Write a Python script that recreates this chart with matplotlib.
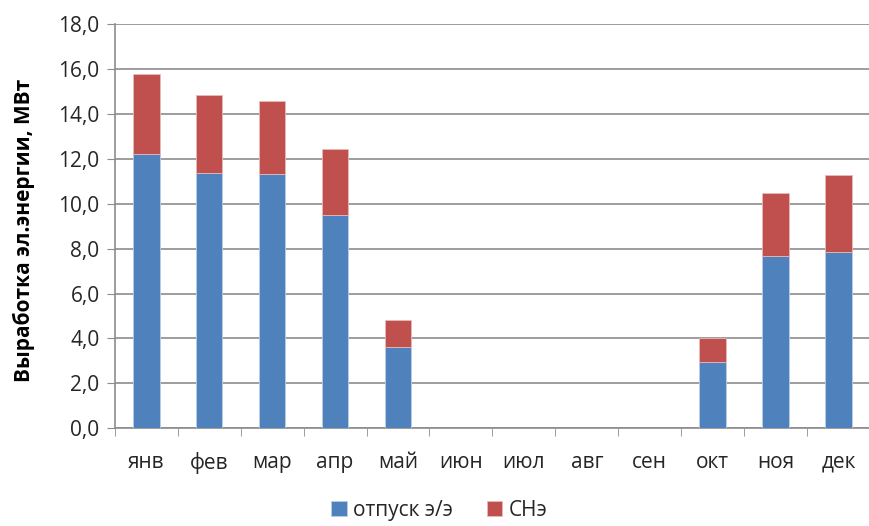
import numpy as np
import matplotlib.pyplot as plt

plt.rcParams['font.family'] = ['Open Sans', 'DejaVu Sans']

months = ['янв', 'фев', 'мар', 'апр', 'май', 'июн', 'июл', 'авг', 'сен', 'окт', 'ноя', 'дек']
supply = [12.22, 11.39, 11.33, 9.51, 3.61, 0, 0, 0, 0, 2.97, 7.68, 7.86]
own_needs = [3.56, 3.44, 3.27, 2.94, 1.20, 0, 0, 0, 0, 1.05, 2.78, 3.43]

blue = '#4F81BD'
red = '#C0504D'
grid_c = '#8C8C8C'
text_c = '#262626'

fig = plt.figure(figsize=(8.7, 5.26), dpi=100)
ax = fig.add_axes([0.132, 0.186, 0.868, 0.768])

x = np.arange(len(months))
ax.bar(x, supply, width=0.42, color=blue, edgecolor='#B9CDE5', linewidth=0.6,
       label='отпуск э/э', zorder=3)
ax.bar(x, own_needs, width=0.42, bottom=supply, color=red, edgecolor='#E6B9B8',
       linewidth=0.6, label='СНэ', zorder=3)

ax.set_xlim(-0.5, len(months) - 0.5)
ax.set_ylim(0, 18)
yt = np.arange(0, 18.1, 2)
ax.set_yticks(yt)
ax.set_yticklabels([f'{v:.1f}'.replace('.', ',') for v in yt],
                   fontsize=15, color=text_c)
ax.set_xticks(x)
ax.set_xticklabels(months, fontsize=15, color=text_c)
ax.set_xticks(np.arange(-0.5, len(months), 1), minor=True)
ax.tick_params(axis='x', which='major', length=0, pad=17)
ax.tick_params(axis='x', which='minor', length=6, color=grid_c, direction='out')
ax.tick_params(axis='y', length=6, color=grid_c, direction='out', pad=5)

ax.grid(axis='y', color=grid_c, linewidth=1.2, zorder=0)
for side in ['top', 'right']:
    ax.spines[side].set_visible(False)
for side in ['left', 'bottom']:
    ax.spines[side].set_color(grid_c)
    ax.spines[side].set_linewidth(1.2)

ax.set_ylabel('Выработка эл.энергии, МВт', fontsize=15, fontweight='bold', color='black')
ax.yaxis.set_label_coords(-0.106, 0.49)

fig.legend(loc='center', bbox_to_anchor=(0.505, 0.03), ncol=2, frameon=False,
           fontsize=15, handlelength=0.75, handleheight=0.75, handletextpad=0.3,
           columnspacing=1.6, labelcolor=text_c, borderpad=0.1)

fig.savefig('out.png', dpi=100)
